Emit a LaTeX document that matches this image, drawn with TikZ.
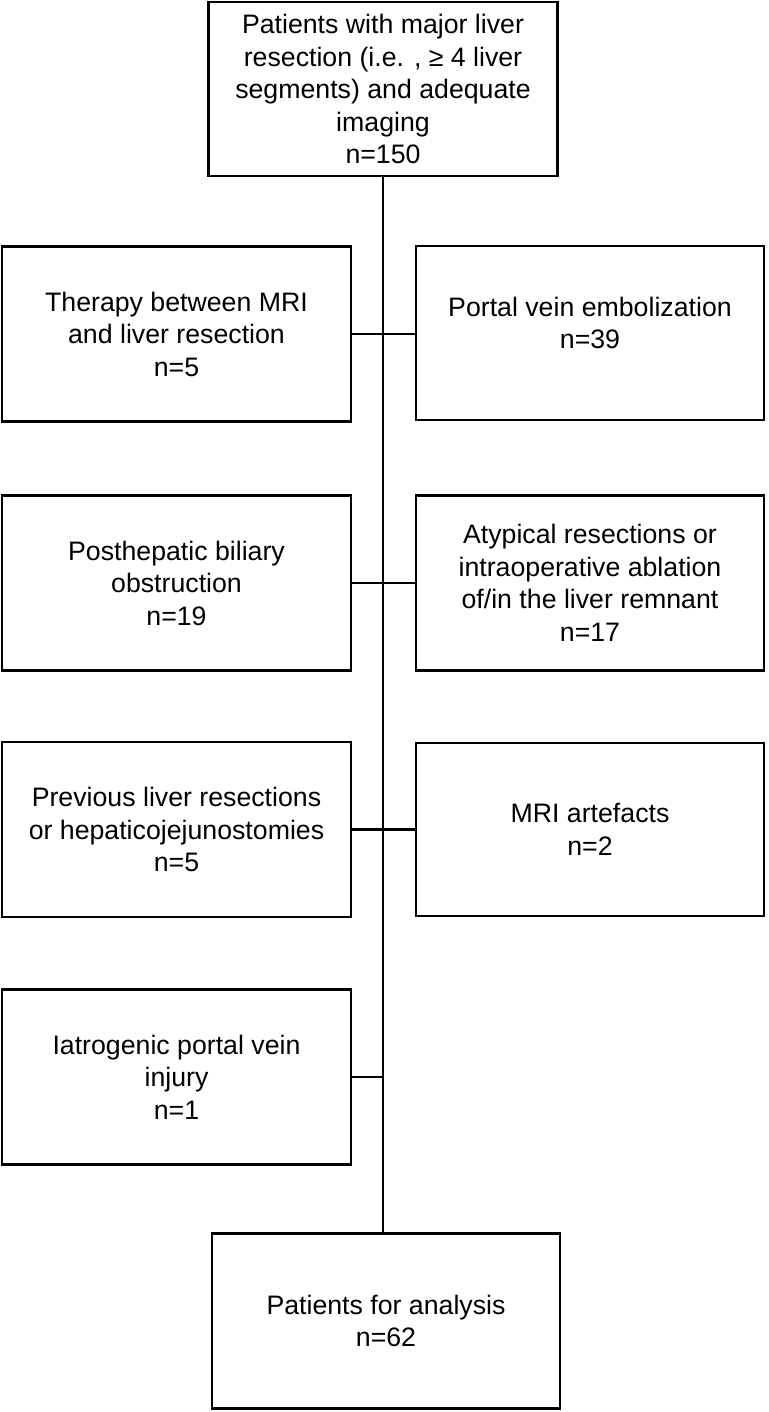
\documentclass[tikz,border=0pt]{standalone}
\usepackage{fontspec}
\setmainfont{Liberation Sans}
\usetikzlibrary{positioning,calc}

\begin{document}
\begin{tikzpicture}[x=0.02cm, y=-0.02cm, line width=1.3pt,
    box/.style={draw, rectangle, minimum width=6.98cm, minimum height=3.5cm,
        align=center, inner sep=0pt, font=\fontsize{15.2}{18.5}\selectfont}]
    \useasboundingbox (0,0) rectangle (768,1412);

    % Start and end
    \node[box, minimum height=3.48cm] (total) at (383,89) {Patients with major liver\\resection (i.e. , ≥ 4 liver\\segments) and adequate\\imaging\\n=150};
    \node[box, minimum width=6.96cm] (final) at (386,1321) {Patients for analysis\\n=62};

    % Exclusions, left column
    \node[box] (therapy) at (176.5,334) {Therapy between MRI\\and liver resection\\n=5};
    \node[box] (biliary) at (176.5,583) {Posthepatic biliary\\obstruction\\n=19};
    \node[box] (previous) at (176.5,829.5) {Previous liver resections\\or hepaticojejunostomies\\n=5};
    \node[box] (injury) at (176.5,1077) {Iatrogenic portal vein\\injury\\n=1};

    % Exclusions, right column
    \node[box, minimum width=6.96cm, minimum height=3.48cm, text depth=0.4cm] (pve) at (590,333) {Portal vein embolization\\n=39};
    \node[box, minimum width=6.96cm] (atypical) at (590,583) {Atypical resections or\\intraoperative ablation\\of/in the liver remnant\\n=17};
    \node[box, minimum width=6.96cm, minimum height=3.46cm] (artefacts) at (590,829.5) {MRI artefacts\\n=2};

    % Connect nodes
    \draw (total.south) -- (total.south |- final.north);
    \draw (therapy.east) -- (therapy.east -| pve.west);
    \draw (biliary.east) -- (biliary.east -| atypical.west);
    \draw (previous.east) -- (previous.east -| artefacts.west);
    \draw (injury.east) -- (injury.east -| total.south);
\end{tikzpicture}
\end{document}
